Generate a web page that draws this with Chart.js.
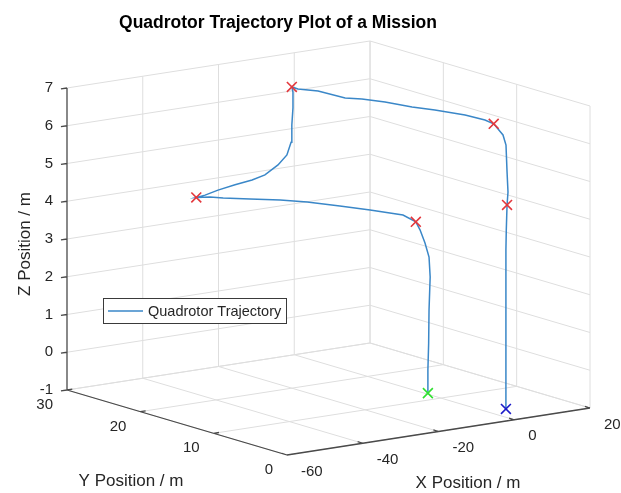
<!DOCTYPE html>
<html><head><meta charset="utf-8">
<script src="https://cdn.jsdelivr.net/npm/chart.js@4.4.0/dist/chart.umd.min.js"></script>
<style>html,body{margin:0;padding:0;background:#fff;overflow:hidden}#wrap{width:621px;height:493px}</style>
</head><body><div id="wrap"><canvas id="c" width="621" height="493"></canvas></div>
<script>
// ---------- data (metres) ----------
const trajX = [-22.8,-22.8,-22.6,-22.5,-22.2,-22.5,-22.5,-22.5,-22.5,
  -22.5,-23.7,-26.6,-29.9,-33.4,-38.05,-42.1,-43.8,-46.0,
  -42.9,-39.5,-35.0,-30.5,-27.1,-23.65,-21.3,-20.2,-20.0,-19.7,-19.7,-20.0,
  -20.6,-18.3,-17.7,-15.4,-13.15,-11.4,-9.2,-6.9,-6.4,-6.0,
  -2.97,-2.18,-1.9,-1.65,-1.9,
  -2.1,-2.2,-2.2,-2.2,-2.2,-2.2];
const trajY = [0,0,0,0,0,0,0.55,1.23,1.8,
  3.55,7.42,10.04,12.8,14.67,16.38,17.95,18.87,19.6,
  20,20,20,20,20,20,20,20,20,20,20,20,
  18.85,17.3,13.92,12.82,10.83,8.05,6.07,3.14,0.69,-0.3,
  0,0,0,0,0,
  0,0,0,0,0,0];
const trajZ = [0.06,0.67,1.38,2.26,3.13,3.66,4.0,4.31,4.49,
  4.57,4.5,4.5,4.5,4.5,4.5,4.5,4.5,4.48,
  4.47,4.55,4.62,4.68,4.76,4.97,5.2,5.52,5.97,6.42,6.84,6.98,
  7,7,7,7,7,7,7,7,7,6.95,
  6.59,6.31,5.59,5.06,4.72,
  4.06,3.53,2.21,0.88,0.09,-0.68];
const wpX = [-22.5,-46.0,-20.0,-6.0,-1.9];
const wpY = [1.8,19.6,20,-0.3,0];
const wpZ = [4.49,4.48,6.98,6.95,4.72];
const startPos = [-22.8,0,0.06];
const endPos = [-2.2,0,-0.68];
const xTicks = [-60,-40,-20,0,20];
const yTicks = [0,10,20,30];
const zTicks = [-1,0,1,2,3,4,5,6,7];
const xLim = [-60,20], yLim = [0,30], zLim = [-1,7];
const seriesLabel = 'Quadrotor Trajectory';
const titleText = 'Quadrotor Trajectory Plot of a Mission';

// ---------- 3D view projection into the chart's linear scale units ----------
const VIEW = {ox:287, oy:455, ex:[3.7875,-0.5875], ey:[-7.3333,-2.1667], ez:[0,-37.75]};
function proj(X,Y,Z){
  const dx=X-xLim[0], dy=Y-yLim[0], dz=Z-zLim[0];
  return {x: VIEW.ox+VIEW.ex[0]*dx+VIEW.ey[0]*dy+VIEW.ez[0]*dz,
          y: VIEW.oy+VIEW.ex[1]*dx+VIEW.ey[1]*dy+VIEW.ez[1]*dz};
}
const GAP = {x:NaN,y:NaN};
function seg(a,b){ return [proj(a[0],a[1],a[2]), proj(b[0],b[1],b[2]), GAP]; }

// grid on the three back planes
const gridPts = [];
xTicks.forEach(x=>{ if(x!==xLim[0]) gridPts.push(...seg([x,yLim[1],zLim[0]],[x,yLim[1],zLim[1]])); });
zTicks.forEach(z=>gridPts.push(...seg([xLim[0],yLim[1],z],[xLim[1],yLim[1],z])));
yTicks.forEach(y=>gridPts.push(...seg([xLim[1],y,zLim[0]],[xLim[1],y,zLim[1]])));
zTicks.forEach(z=>gridPts.push(...seg([xLim[1],yLim[0],z],[xLim[1],yLim[1],z])));
xTicks.forEach(x=>gridPts.push(...seg([x,yLim[0],zLim[0]],[x,yLim[1],zLim[0]])));
yTicks.forEach(y=>gridPts.push(...seg([xLim[0],y,zLim[0]],[xLim[1],y,zLim[0]])));

// axis lines + tick marks
const axisPts = [];
axisPts.push(...seg([xLim[0],yLim[1],zLim[0]],[xLim[0],yLim[1],zLim[1]]));
axisPts.push(...seg([xLim[0],yLim[0],zLim[0]],[xLim[0],yLim[1],zLim[0]]));
axisPts.push(...seg([xLim[0],yLim[0],zLim[0]],[xLim[1],yLim[0],zLim[0]]));
zTicks.forEach(z=>axisPts.push(...seg([xLim[0],yLim[1],z],[xLim[0]-1.6,yLim[1],z])));
yTicks.forEach(y=>axisPts.push(...seg([xLim[0],y,zLim[0]],[xLim[0]+1.4,y,zLim[0]])));
xTicks.forEach(x=>axisPts.push(...seg([x,yLim[0],zLim[0]],[x,yLim[0]+0.7,zLim[0]])));

const trajPts = trajX.map((x,i)=>proj(x,trajY[i],trajZ[i]));
const wpPts = wpX.map((x,i)=>proj(x,wpY[i],wpZ[i]));
const startPts = [proj(startPos[0],startPos[1],startPos[2])];
const endPts = [proj(endPos[0],endPos[1],endPos[2])];

const LINE_COLOR = '#3a87c8';
const FONT = '"Liberation Sans", Arial, Helvetica, sans-serif';

const textPlugin = {
  id:'texts',
  afterDatasetsDraw(chart){
    const ctx=chart.ctx, sx=chart.scales.x, sy=chart.scales.y;
    const P=(X,Y,Z)=>{const p=proj(X,Y,Z);return {x:sx.getPixelForValue(p.x), y:sy.getPixelForValue(p.y)};};
    const S=(x,y)=>({x:sx.getPixelForValue(x), y:sy.getPixelForValue(y)});
    ctx.save();
    ctx.fillStyle='#262626';
    ctx.font='15px '+FONT;
    ctx.textBaseline='middle';
    ctx.textAlign='right';
    zTicks.forEach(z=>{const p=P(xLim[0],yLim[1],z); ctx.fillText(String(z), p.x-14, p.y);});
    yTicks.forEach(y=>{const p=P(xLim[0],y,zLim[0]); ctx.fillText(String(y), p.x-14, p.y+15);});
    ctx.textAlign='left';
    xTicks.forEach(x=>{const p=P(x,yLim[0],zLim[0]); ctx.fillText(String(x), p.x+14, p.y+16.5);});
    // axis titles
    ctx.font='17px '+FONT;
    ctx.textAlign='center';
    let p=S(131,481); ctx.fillText('Y Position / m', p.x, p.y);
    p=S(468,483); ctx.fillText('X Position / m', p.x, p.y);
    p=S(25,244); ctx.save(); ctx.translate(p.x,p.y); ctx.rotate(-Math.PI/2); ctx.fillText('Z Position / m',0,0); ctx.restore();
    // title
    ctx.fillStyle='#000';
    ctx.font='bold 17.5px '+FONT;
    ctx.textBaseline='alphabetic';
    p=S(278,28); ctx.fillText(titleText, p.x, p.y);
    // legend box
    const a=S(103,298), b=S(286,323);
    ctx.fillStyle='#fff';
    ctx.fillRect(a.x,a.y,b.x-a.x,b.y-a.y);
    ctx.strokeStyle='#3a3a3a'; ctx.lineWidth=1;
    ctx.strokeRect(a.x+0.5,a.y+0.5,b.x-a.x,b.y-a.y);
    ctx.strokeStyle=LINE_COLOR; ctx.lineWidth=1.5;
    ctx.beginPath(); const l1=S(108,311), l2=S(143,311); ctx.moveTo(l1.x,l1.y); ctx.lineTo(l2.x,l2.y); ctx.stroke();
    ctx.fillStyle='#262626'; ctx.font='14.5px '+FONT; ctx.textAlign='left'; ctx.textBaseline='middle';
    p=S(148,311.5); ctx.fillText(seriesLabel, p.x, p.y);
    ctx.restore();
  }
};

new Chart(document.getElementById('c'), {
  type:'scatter',
  data:{datasets:[
    {label:'grid', data:gridPts, showLine:true, spanGaps:false, borderColor:'#dedede', borderWidth:1, pointRadius:0, order:6},
    {label:'axes', data:axisPts, showLine:true, spanGaps:false, borderColor:'#4a4a4a', borderWidth:1.3, pointRadius:0, order:5},
    {label:seriesLabel, data:trajPts, showLine:true, borderColor:LINE_COLOR, borderWidth:1.5, pointRadius:0, tension:0, order:4},
    {label:'waypoints', data:wpPts, showLine:false, pointStyle:'crossRot', pointRadius:7, pointBorderWidth:1.6, borderColor:'#e3373c', backgroundColor:'#e3373c', order:3},
    {label:'start', data:startPts, showLine:false, pointStyle:'crossRot', pointRadius:7, pointBorderWidth:1.6, borderColor:'#2fe02f', backgroundColor:'#2fe02f', order:2},
    {label:'end', data:endPts, showLine:false, pointStyle:'crossRot', pointRadius:7, pointBorderWidth:1.6, borderColor:'#1c1cc8', backgroundColor:'#1c1cc8', order:1}
  ]},
  options:{
    responsive:false, animation:false, devicePixelRatio:1,
    layout:{padding:0, autoPadding:false},
    plugins:{legend:{display:false}, tooltip:{enabled:false}, title:{display:false}},
    scales:{
      x:{type:'linear', min:0, max:621, display:false},
      y:{type:'linear', min:0, max:493, reverse:true, display:false}
    }
  },
  plugins:[textPlugin]
});
</script>
</body></html>
